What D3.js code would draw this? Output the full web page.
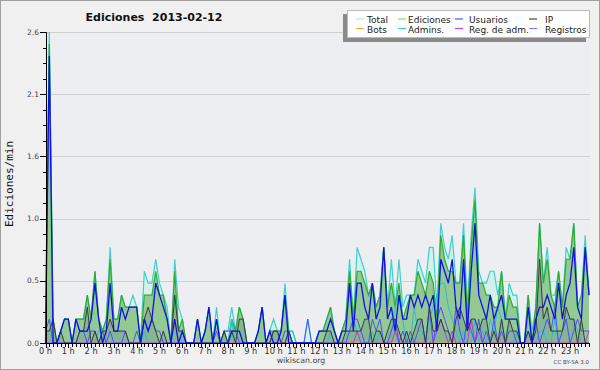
<!DOCTYPE html>
<html><head><meta charset="utf-8">
<script src="https://cdn.jsdelivr.net/npm/d3@7"></script>
<style>body{margin:0;background:#f0f0f0}svg{display:block}</style>
</head><body>
<svg id="c" width="600" height="370"></svg>
<script>
// ---- data: 144 ten-minute bins (edits per minute) ----
const total = [
0.2,2.6,0.2,0,0.1,0.2,0.2,0,0.2,0.2,0.2,0.4,
0.2,0.6,0.2,0.1,0.2,0.8,0.2,0.2,0.4,0.3,0.3,0.4,
0.3,0,0.6,0.5,0.5,0.7,0.5,0.4,0.3,0,0.7,0.3,
0.2,0,0,0,0.2,0,0.1,0.3,0,0.3,0,0.1,
0.1,0.3,0.1,0.3,0.2,0,0,0,0.1,0.3,0,0.1,
0.2,0.1,0.1,0.5,0.1,0.1,0,0,0,0.2,0,0,
0.1,0.1,0.2,0.3,0.1,0,0.1,0.2,0.7,0.2,0.8,0.7,
0.6,0.4,0.5,0.3,0.4,0.8,0.3,0.7,0.3,0.7,0.3,0.4,
0.4,0.4,0.7,0.6,0.5,0.8,0.8,0.3,1.0,0.8,0.7,0.9,
0.5,0.5,1.0,0.3,0.9,1.3,0.6,0.5,0.5,0.6,0.6,0.4,
0.6,0.2,0.5,0.4,0.4,0,0,0.4,0.1,0.3,1.0,0.5,
0.8,0.4,0.4,0.6,0.3,0.8,0.7,1.0,0.3,0.4,0.9,0.4];
const ediciones = [
0.1,2.5,0.2,0,0.1,0.2,0.2,0,0.2,0.2,0.2,0.4,
0.2,0.6,0.2,0.1,0.2,0.7,0.2,0.2,0.4,0.3,0.3,0.3,
0.3,0,0.4,0.4,0.4,0.6,0.4,0.4,0.2,0,0.6,0.1,
0.2,0,0,0,0.2,0,0.1,0.3,0,0.2,0,0.1,
0,0.2,0.1,0.3,0.2,0,0,0,0.1,0.3,0,0.1,
0.1,0.1,0.1,0.4,0.1,0,0,0,0,0,0,0,
0.1,0.1,0.2,0.3,0.1,0,0.1,0.2,0.6,0.2,0.6,0.6,
0.5,0.4,0.5,0.3,0.4,0.8,0.3,0.5,0.3,0.5,0.2,0.3,
0.4,0.4,0.6,0.5,0.4,0.6,0.5,0.2,0.9,0.7,0.6,0.6,
0.5,0.5,0.9,0.2,0.8,1.2,0.5,0.5,0.4,0.4,0.3,0.3,
0.6,0.2,0.4,0.3,0.3,0,0,0.4,0,0.3,1.0,0.5,
0.7,0.4,0.3,0.6,0.3,0.7,0.7,1.0,0.3,0.4,0.8,0.4];
const usuarios = [
0,2.4,0,0,0.1,0.2,0.2,0,0.2,0.1,0.1,0.1,
0.2,0.5,0.2,0,0.1,0.5,0.1,0.1,0.3,0.2,0.3,0.3,
0.3,0,0.2,0.1,0.2,0.5,0.4,0.3,0.2,0,0.2,0,
0.1,0,0,0,0.2,0,0.1,0.3,0,0.2,0,0,
0,0.1,0.1,0.1,0,0,0,0,0.1,0.3,0,0.1,
0,0,0.1,0.4,0,0,0,0,0,0,0,0,
0.1,0.1,0.1,0.2,0.1,0,0.1,0.1,0.5,0.1,0.5,0.5,
0.3,0.2,0.5,0.2,0.3,0.8,0.2,0.3,0.1,0.4,0.2,0.2,
0.4,0.3,0.4,0.3,0.4,0.3,0.4,0.1,0.7,0.6,0.5,0.7,
0.3,0.2,0.7,0.1,0.6,1.0,0.4,0.3,0.2,0.4,0.2,0.3,
0.4,0.2,0.2,0.2,0.2,0,0,0.3,0,0.2,0.3,0.3,
0.4,0.3,0.2,0.5,0.2,0.4,0.5,0.8,0.3,0.2,0.8,0.4];
const ip = [
0.1,0.1,0.2,0,0.1,0,0,0,0,0.1,0.1,0.3,
0,0.1,0,0.1,0.1,0.2,0.1,0.1,0.1,0.1,0,0,
0,0,0.2,0.3,0.2,0.1,0,0.1,0,0,0.4,0.1,
0.1,0,0,0,0,0,0,0,0,0,0,0.1,
0,0.1,0,0.2,0.2,0,0,0,0,0,0,0,
0.1,0.1,0,0,0.1,0,0,0,0,0,0,0,
0,0,0.1,0.1,0,0,0,0.1,0.1,0.1,0.1,0.1,
0.2,0.2,0,0.1,0.1,0,0.1,0.2,0.2,0.1,0,0.1,
0,0.1,0.2,0.2,0,0.3,0.1,0.1,0.2,0.1,0.1,0,
0.2,0.3,0.2,0.1,0.2,0.2,0.1,0.2,0.2,0,0.1,0,
0.2,0,0.2,0.1,0.1,0,0,0.1,0,0.1,0.7,0.2,
0.3,0.1,0.1,0.1,0.1,0.3,0.2,0.2,0,0.2,0,0];
const registros = [
0.1,0.2,0,0,0,0,0,0,0,0.1,0.1,0,
0.1,0.1,0,0.1,0,0.1,0,0,0,0.1,0,0,
0.1,0,0.2,0.1,0.2,0.1,0.1,0,0,0,0,0,
0,0,0,0,0,0,0,0,0,0.1,0,0.1,
0.1,0.1,0.1,0,0,0,0,0,0,0,0,0,
0.1,0.1,0,0.1,0.1,0,0,0,0,0.2,0,0,
0,0,0,0,0,0,0,0,0.1,0.2,0.2,0.1,
0,0,0.2,0.1,0.2,0,0,0.1,0.2,0,0.1,0,
0.1,0,0.1,0.2,0,0.3,0,0.2,0.3,0.2,0.1,0,
0.3,0.1,0,0.2,0.1,0,0.2,0,0.1,0,0.2,0,
0.1,0,0.1,0.1,0,0,0,0.1,0,0.2,0,0.1,
0.2,0.1,0.3,0,0.1,0.2,0,0.1,0.2,0.1,0.1,0.1];
const admins = [
0,0,0,0,0,0,0,0,0,0,0,0,
0,0,0.1,0.1,0,0,0,0,0,0,0,0,
0,0,0.1,0,0,0,0,0,0,0,0,0,
0,0,0,0,0,0,0,0,0,0,0,0,
0,0.2,0,0,0,0,0,0,0,0,0,0,
0,0,0,0,0.1,0.1,0,0,0,0,0,0,
0,0,0,0.1,0,0,0,0,0.1,0.2,0.1,0,
0,0,0.1,0,0.1,0,0,0.1,0.3,0.4,0.2,0,
0,0.3,0.1,0.1,0,0.2,0.3,0.4,0.5,0.5,0.3,0.2,
0.1,0,0.1,0,0,0.2,0,0.1,0,0.2,0.1,0.3,
0.2,0,0,0,0.1,0,0,0.1,0,0,0.1,0.1,
0,0,0.2,0,0.1,0.2,0.2,0.2,0.1,0,0,0];
const regAdm = [
0,0,0,0,0,0,0,0,0,0,0,0,
0,0,0,0,0,0,0,0,0,0,0,0,
0,0,0,0,0,0,0,0,0,0,0,0,
0,0,0,0,0,0,0,0,0,0,0,0,
0,0,0,0,0,0,0,0,0,0,0,0,
0,0,0,0,0,0,0,0,0,0,0,0,
0,0,0,0,0,0,0,0,0,0,0.1,0,
0,0,0,0,0,0,0,0,0.1,0,0,0,
0,0,0,0,0,0,0,0.1,0.2,0.1,0,0.1,
0,0,0,0,0.2,0,0.1,0,0,0,0,0,
0,0,0,0,0,0,0,0,0,0,0,0,
0,0,0,0,0,0,0,0,0,0,0,0.1];
const bots = new Array(144).fill(0);
const yTicks = [0, 0.52, 1.04, 1.56, 2.08, 2.6];
const hourLabels = ["0 h","1 h","2 h","3 h","4 h","5 h","6 h","7 h","8 h","9 h","10 h","11 h","12 h","13 h","14 h","15 h","16 h","17 h","18 h","19 h","20 h","21 h","22 h","23 h"];
const legendRows = [["Total","Ediciones","Usuarios","IP"],["Bots","Admins.","Reg. de adm.","Registros"]];
const legendColors = [["#a8e6ea","#7acb7a","#3333ff","#222222"],["#ffa726","#33c6d8","#e033e0","#7777ff"]];

// ---- drawing ----
const svg = d3.select("#c");
const X0 = 46, X1 = 589, YT = 32, YB = 343;
const x = d3.scaleLinear().domain([0,143]).range([45.5, X1]);
const y = d3.scaleLinear().domain([0,2.6]).range([YB, YT]);

svg.append("rect").attr("x",0.5).attr("y",0.5).attr("width",599).attr("height",369)
  .attr("fill","#f0f0f0").attr("stroke","#a0a0a0");
svg.append("rect").attr("x",X0).attr("y",YT).attr("width",X1-X0+1).attr("height",YB-YT)
  .attr("fill","#eceef1");

// grid
svg.append("g").selectAll("line").data(yTicks.slice(1)).join("line")
  .attr("x1",X0).attr("x2",X1+1).attr("y1",d=>Math.round(y(d))+0.5).attr("y2",d=>Math.round(y(d))+0.5)
  .attr("stroke","#cfcfcf");

const idx = d3.range(144);
const area = arr => d3.area().x(i=>x(i)).y0(y(0)).y1(i=>y(arr[i]))(idx);
const line = arr => d3.line().x(i=>x(i)).y(i=>y(arr[i]))(idx);

svg.append("path").attr("d",area(total)).attr("fill","#d3f0ec");
svg.append("path").attr("d",area(ediciones)).attr("fill","#93c993");
svg.append("path").attr("d",area(ip)).attr("fill","rgba(70,100,150,0.18)");

const lines = [
  [total,"#3fd0cc",1.2],
  [ediciones,"#2faa2f",1.2],
  [bots,"#ffa726",1],
  [admins,"#22c2d8",1],
  [regAdm,"#cc33dd",1],
  [registros,"#4f4fff",1],
  [ip,"#3a3a3a",1],
  [usuarios,"#1010e6",1.3]
];
lines.forEach(([arr,c,w])=>{
  svg.append("path").attr("d",line(arr)).attr("fill","none").attr("stroke",c).attr("stroke-width",w)
    .attr("stroke-linejoin","miter");
});

// axes
const ax = svg.append("g").attr("stroke","#000").attr("shape-rendering","crispEdges");
ax.append("line").attr("x1",X0).attr("x2",X0).attr("y1",YT).attr("y2",YB+0.5);
ax.append("line").attr("x1",X0).attr("x2",X1+1).attr("y1",YB+0.5).attr("y2",YB+0.5);
// y ticks
const yMinor = d3.range(0, 21).map(k=>k*0.13);
ax.selectAll(".ym").data(yMinor).join("line")
  .attr("x1",d=> (Math.abs(d/0.52-Math.round(d/0.52))<1e-6)? X0-6 : X0-3).attr("x2",X0)
  .attr("y1",d=>Math.round(y(d))+0.5).attr("y2",d=>Math.round(y(d))+0.5);
svg.append("g").selectAll("text").data(yTicks).join("text")
  .attr("x",X0-7).attr("y",d=>y(d)+2.5).attr("text-anchor","end")
  .attr("font-family","DejaVu Sans").attr("font-size",7.5).attr("fill","#444")
  .text(d=>d3.format(".1f")(d));
// x ticks
ax.selectAll(".xm").data(d3.range(144)).join("line")
  .attr("x1",i=>Math.round(x(i))+0.5).attr("x2",i=>Math.round(x(i))+0.5)
  .attr("y1",YB+1).attr("y2",i=> i%6===0 ? YB+5 : YB+4);
svg.append("g").selectAll("text").data(hourLabels).join("text")
  .attr("x",(d,k)=>x(k*6)).attr("y",YB+11).attr("text-anchor","middle")
  .attr("font-family","DejaVu Sans").attr("font-size",8.2).attr("fill","#333")
  .text(d=>d);

// texts
svg.append("text").attr("x",154).attr("y",21).attr("text-anchor","middle")
  .attr("font-family","DejaVu Sans").attr("font-weight","bold").attr("font-size",11)
  .attr("fill","#111").style("white-space","pre").text("Ediciones\u00a0\u00a02013-02-12");
svg.append("text").attr("transform","translate(13,184) rotate(-90)").attr("text-anchor","middle")
  .attr("font-family","DejaVu Sans Mono").attr("font-size",11).attr("fill","#111").text("Ediciones/min");
svg.append("text").attr("x",301).attr("y",363).attr("text-anchor","middle")
  .attr("font-family","DejaVu Sans").attr("font-size",7.8).attr("fill","#444").text("wikiscan.org");
svg.append("text").attr("x",589).attr("y",364).attr("text-anchor","end")
  .attr("font-family","DejaVu Sans").attr("font-size",5.5).attr("fill","#444").text("CC BY-SA 3.0");

// legend
svg.append("rect").attr("x",343).attr("y",14).attr("width",243).attr("height",28).attr("fill","#8a8a8a");
svg.append("rect").attr("x",347.5).attr("y",10.5).attr("width",242).attr("height",27)
  .attr("fill","#fff").attr("stroke","#bbb");
const colX = [356, 398, 455, 529], txtX = [367, 408, 469, 545], rowY = [19, 28.5];
legendRows.forEach((row,r)=>row.forEach((lab,c)=>{
  svg.append("line").attr("x1",colX[c]).attr("x2",colX[c]+8).attr("y1",rowY[r]).attr("y2",rowY[r])
    .attr("stroke",legendColors[r][c]).attr("stroke-width",1);
  svg.append("text").attr("x",txtX[c]).attr("y",rowY[r]+4).attr("font-family","DejaVu Sans")
    .attr("font-size",9).attr("fill","#222").text(lab);
}));
</script>
</body></html>
